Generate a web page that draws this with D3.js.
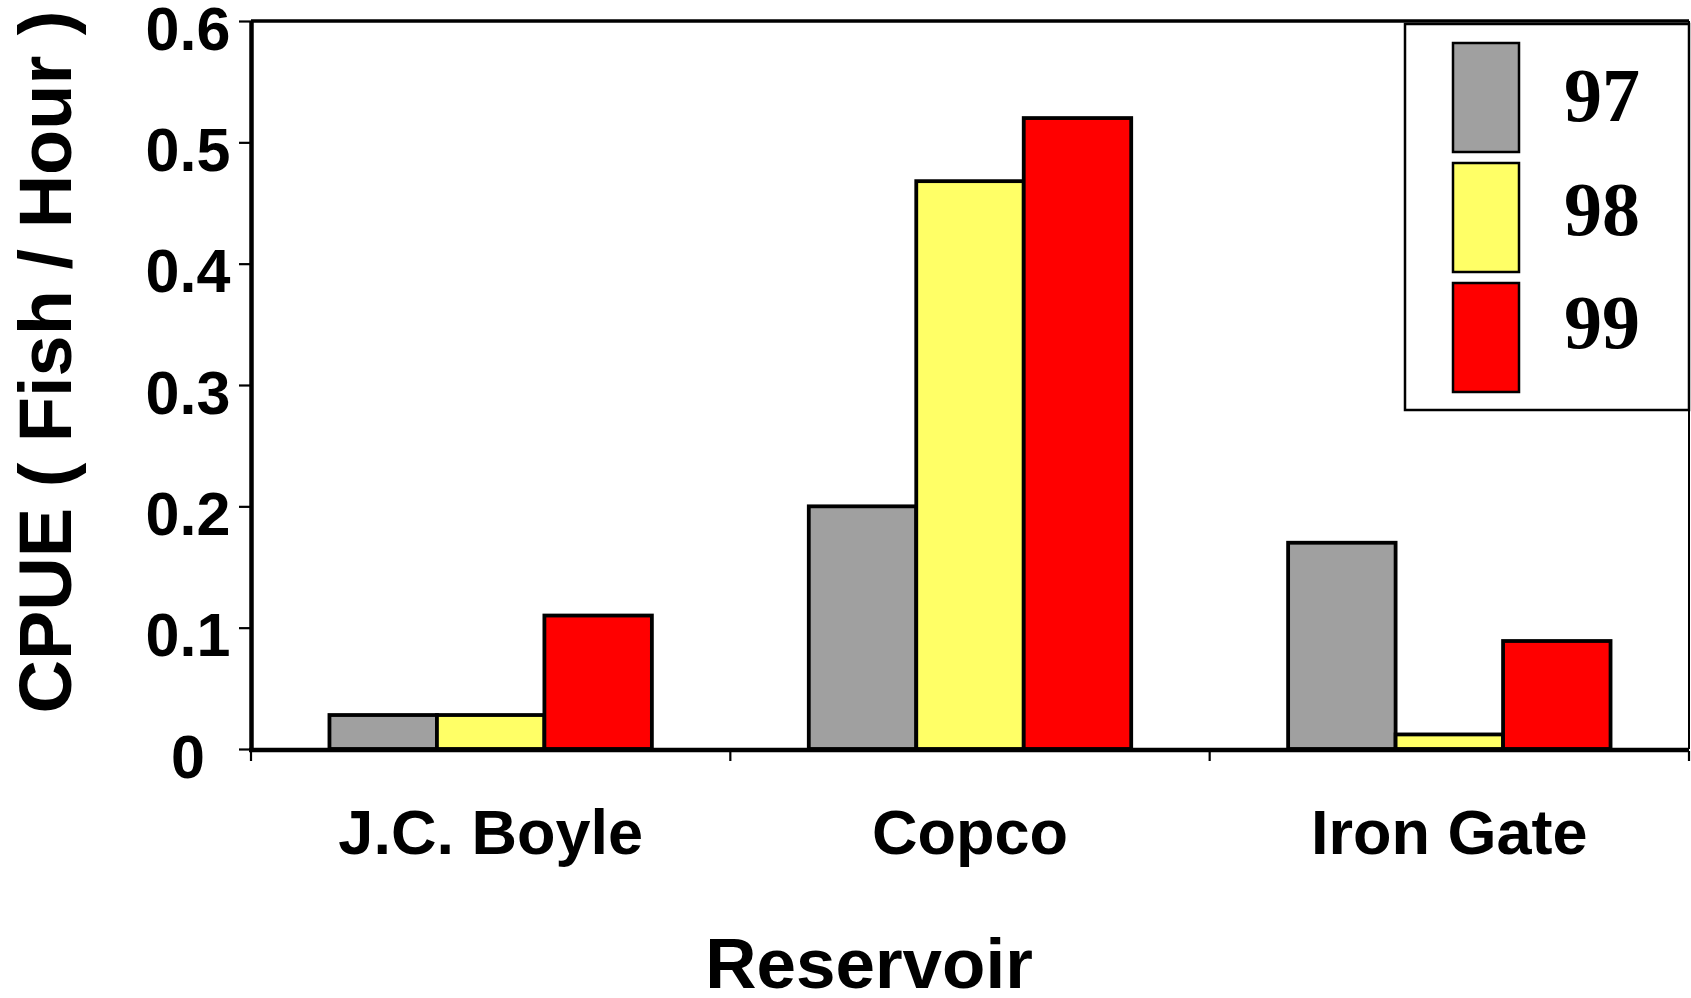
<!DOCTYPE html>
<html>
<head>
<meta charset="utf-8">
<script src="https://cdn.jsdelivr.net/npm/d3@7"></script>
<style>
  html, body { margin: 0; padding: 0; background: #fff; }
  svg { display: block; }
</style>
</head>
<body>
<svg id="chart" width="1691" height="998"></svg>
<script>
// CPUE by reservoir and year
const reservoirs = ["J.C. Boyle", "Copco", "Iron Gate"];
const years = ["97", "98", "99"];
const cpue97 = [0.028, 0.20, 0.17];
const cpue98 = [0.028, 0.468, 0.012];
const cpue99 = [0.11, 0.52, 0.089];
const yTicks = [0, 0.1, 0.2, 0.3, 0.4, 0.5, 0.6];
const yearColors = ["#a0a0a0", "#ffff66", "#ff0000"];

const seriesByYear = [cpue97, cpue98, cpue99];
const rows = reservoirs.map((r, i) => ({
  reservoir: r,
  values: years.map((yr, j) => ({ year: yr, value: seriesByYear[j][i] }))
}));

const svg = d3.select("#chart");
const plot = { left: 251, right: 1689, top: 21, bottom: 749 };

const x0 = d3.scaleBand().domain(reservoirs).range([plot.left, plot.right]).padding(0);
const x1 = d3.scaleBand().domain(years).range([0, x0.bandwidth()])
  .paddingInner(0).paddingOuter(0.73);
const y = d3.scaleLinear().domain([0, 0.6]).range([plot.bottom, plot.top]);
const color = d3.scaleOrdinal().domain(years).range(yearColors);

// bars
svg.append("g").selectAll("g")
  .data(rows)
  .join("g")
  .attr("transform", d => `translate(${x0(d.reservoir)},0)`)
  .selectAll("rect")
  .data(d => d.values)
  .join("rect")
  .attr("x", d => x1(d.year))
  .attr("y", d => y(d.value))
  .attr("width", x1.bandwidth())
  .attr("height", d => y(0) - y(d.value))
  .attr("fill", d => color(d.year))
  .attr("stroke", "#000")
  .attr("stroke-width", 3.8);

// plot frame: top and right edges
svg.append("line")
  .attr("x1", plot.left).attr("x2", plot.right)
  .attr("y1", plot.top).attr("y2", plot.top)
  .attr("stroke", "#000").attr("stroke-width", 3.5);
svg.append("line")
  .attr("x1", plot.right).attr("x2", plot.right)
  .attr("y1", plot.top).attr("y2", plot.bottom)
  .attr("stroke", "#000").attr("stroke-width", 2);

// y axis
const yAxis = svg.append("g")
  .attr("transform", `translate(${plot.left},0)`)
  .call(d3.axisLeft(y).tickValues(yTicks).tickSize(12).tickSizeOuter(0)
    .tickFormat(d => d === 0 ? "0" : d3.format(".1f")(d)));
yAxis.select(".domain").attr("stroke", "#000").attr("stroke-width", 4.5);
yAxis.selectAll(".tick line").attr("stroke", "#000").attr("stroke-width", 2.2);
yAxis.selectAll(".tick text")
  .attr("x", -63)
  .attr("dy", null)
  .attr("y", 28)
  .attr("text-anchor", "middle")
  .attr("fill", "#000")
  .style("font-family", "'Liberation Sans', Arial, sans-serif")
  .style("font-weight", "bold")
  .style("font-size", "61px");

// x axis baseline and category boundary ticks
svg.append("line")
  .attr("x1", plot.left - 2).attr("x2", plot.right)
  .attr("y1", plot.bottom + 1).attr("y2", plot.bottom + 1)
  .attr("stroke", "#000").attr("stroke-width", 4.5);
const boundaries = reservoirs.map(r => x0(r)).concat([x0.range()[1]]);
svg.append("g").selectAll("line")
  .data(boundaries)
  .join("line")
  .attr("x1", d => d).attr("x2", d => d)
  .attr("y1", plot.bottom + 2).attr("y2", plot.bottom + 12)
  .attr("stroke", "#000").attr("stroke-width", 2.2);

// category labels
svg.append("g").selectAll("text")
  .data(reservoirs)
  .join("text")
  .attr("x", d => x0(d) + x0.bandwidth() / 2)
  .attr("y", 854)
  .attr("text-anchor", "middle")
  .style("font-family", "'Liberation Sans', Arial, sans-serif")
  .style("font-weight", "bold")
  .style("font-size", "63px")
  .text(d => d);

// axis titles
svg.append("text")
  .attr("x", 869).attr("y", 988)
  .attr("text-anchor", "middle")
  .style("font-family", "'Liberation Sans', Arial, sans-serif")
  .style("font-weight", "bold")
  .style("font-size", "71px")
  .text("Reservoir");

svg.append("text")
  .attr("transform", "translate(71,362) rotate(-90)")
  .attr("text-anchor", "middle")
  .style("font-family", "'Liberation Sans', Arial, sans-serif")
  .style("font-weight", "bold")
  .style("font-size", "74px")
  .text("CPUE ( Fish / Hour )");

// legend
const legend = svg.append("g");
legend.append("rect")
  .attr("x", 1405).attr("y", 24)
  .attr("width", 1689 - 1405).attr("height", 410 - 24)
  .attr("fill", "#fff").attr("stroke", "#000").attr("stroke-width", 2.5);
const items = legend.selectAll("g.item")
  .data(years)
  .join("g")
  .attr("class", "item");
items.append("rect")
  .attr("x", 1453)
  .attr("y", (d, i) => 43 + i * 120)
  .attr("width", 66)
  .attr("height", 109)
  .attr("fill", d => color(d))
  .attr("stroke", "#000")
  .attr("stroke-width", 2.5);
items.append("text")
  .attr("x", 1564)
  .attr("y", (d, i) => 121 + i * 113.5)
  .style("font-family", "'Liberation Serif', 'Times New Roman', serif")
  .style("font-weight", "bold")
  .style("font-size", "76px")
  .text(d => d);
</script>
</body>
</html>
